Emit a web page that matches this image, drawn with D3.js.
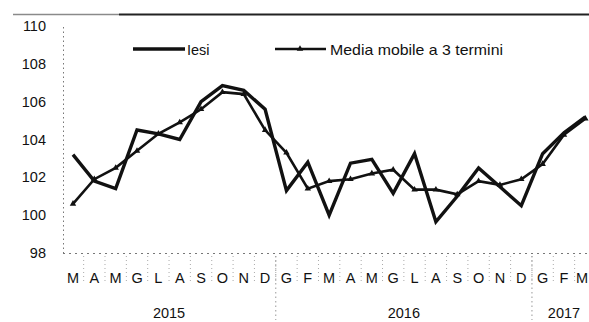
<!DOCTYPE html>
<html>
<head>
<meta charset="utf-8">
<script src="https://cdn.jsdelivr.net/npm/d3@7"></script>
<style>
  html, body { margin: 0; padding: 0; background: #fff; }
  svg { display: block; }
  text { font-family: "Liberation Sans", Arial, sans-serif; fill: #111; }
</style>
</head>
<body>
<svg id="chart" width="589" height="322"></svg>
<script>
// Monthly index, March 2015 – March 2017
const months = ["M","A","M","G","L","A","S","O","N","D",
                "G","F","M","A","M","G","L","A","S","O","N","D",
                "G","F","M"];
const years = ["2015", "2016", "2017"];
const monthsPerYear = [10, 12, 3];

const iesi = [103.2, 101.8, 101.4, 104.5, 104.3, 104.0, 106.0, 106.85, 106.6, 105.6,
              101.3, 102.8, 100.0, 102.75, 102.95, 101.15, 103.25, 99.65, 101.0, 102.5,
              101.5, 100.5, 103.25, 104.35, 105.2];
const mediaMobile = [100.6, 101.9, 102.5, 103.4, 104.3, 104.9, 105.6, 106.5, 106.4, 104.5,
                     103.3, 101.4, 101.8, 101.9, 102.2, 102.4, 101.35, 101.35, 101.1, 101.8,
                     101.6, 101.9, 102.7, 104.25, 105.1];
const yTicks = [98, 100, 102, 104, 106, 108, 110];
const seriesNames = ["Iesi", "Media mobile a 3 termini"];

const W = 589;
const svg = d3.select("#chart");
const idx = d3.range(months.length);

const x = d3.scaleBand().domain(idx).range([62.3, 596]).padding(0);
const cx = i => x(i) + x.bandwidth() / 2;
const y = d3.scaleLinear().domain([98, 110]).range([253, 26]);

// page rule across the top
svg.append("line").attr("x1", 13).attr("x2", 119).attr("y1", 14.5).attr("y2", 14.5)
  .attr("stroke", "#8a8a8a").attr("stroke-width", 1.6);
svg.append("line").attr("x1", 119).attr("x2", W).attr("y1", 14.5).attr("y2", 14.5)
  .attr("stroke", "#222").attr("stroke-width", 1.8);

// y axis (dotted)
const yAxis = svg.append("g").attr("transform", "translate(63,0)")
  .call(d3.axisLeft(y).tickValues(yTicks).tickSize(0).tickPadding(17).tickFormat(d3.format("d")));
yAxis.select(".domain").attr("stroke", "#777").attr("stroke-dasharray", "1.5,3").attr("stroke-width", 1);
yAxis.selectAll("text").attr("font-size", 14.5).attr("fill", "#111");

// x axis baseline (dotted)
svg.append("line").attr("x1", 63).attr("x2", W).attr("y1", 253.5).attr("y2", 253.5)
  .attr("stroke", "#777").attr("stroke-dasharray", "2,4").attr("stroke-width", 1);

// month separators
svg.append("g").selectAll("line").data(idx.slice(1)).join("line")
  .attr("x1", i => x(i)).attr("x2", i => x(i))
  .attr("y1", 256).attr("y2", 282)
  .attr("stroke", "#aaa").attr("stroke-dasharray", "1,3").attr("stroke-width", 1);

// year separators
const yearStarts = d3.cumsum(monthsPerYear);
svg.append("g").selectAll("line").data(yearStarts.slice(0, -1)).join("line")
  .attr("x1", i => x(i)).attr("x2", i => x(i))
  .attr("y1", 256).attr("y2", 320)
  .attr("stroke", "#999").attr("stroke-dasharray", "1.5,3").attr("stroke-width", 1);

// month labels (kept inside the right edge)
svg.append("g").selectAll("text").data(idx).join("text")
  .attr("x", i => Math.min(cx(i), W - 7)).attr("y", 283)
  .attr("text-anchor", "middle").attr("font-size", 14.5)
  .text(i => months[i]);

// year labels centred under their months
const yearBounds = years.map((yr, k) => {
  const start = k === 0 ? 0 : yearStarts[k - 1];
  const end = yearStarts[k];
  return { yr, x0: x(start), x1: x(end - 1) + x.bandwidth() };
});
svg.append("g").selectAll("text").data(yearBounds).join("text")
  .attr("x", d => (d.x0 + d.x1) / 2).attr("y", 318)
  .attr("text-anchor", "middle").attr("font-size", 14.5)
  .text(d => d.yr);

// series lines
const line = d3.line().x((d, i) => cx(i)).y(d => y(d));

svg.append("path").datum(mediaMobile).attr("d", line)
  .attr("fill", "none").attr("stroke", "#111").attr("stroke-width", 2.6)
  .attr("stroke-linejoin", "miter");

const tri = d3.symbol().type(d3.symbolTriangle).size(18);
svg.append("g").selectAll("path").data(mediaMobile).join("path")
  .attr("d", tri)
  .attr("transform", (d, i) => `translate(${cx(i)},${y(d)})`)
  .attr("fill", "#111");

svg.append("path").datum(iesi).attr("d", line)
  .attr("fill", "none").attr("stroke", "#111").attr("stroke-width", 3.4)
  .attr("stroke-linejoin", "miter");

// legend
const lg = svg.append("g");
lg.append("line").attr("x1", 133).attr("x2", 185).attr("y1", 49).attr("y2", 49)
  .attr("stroke", "#111").attr("stroke-width", 3.4);
lg.append("text").attr("x", 187).attr("y", 54.5).attr("font-size", 14.5).text(seriesNames[0]);
lg.append("line").attr("x1", 275).attr("x2", 326).attr("y1", 49).attr("y2", 49)
  .attr("stroke", "#111").attr("stroke-width", 2.6);
lg.append("path").attr("d", tri).attr("transform", "translate(300,49)").attr("fill", "#111");
lg.append("text").attr("x", 330).attr("y", 54.5).attr("font-size", 14.5)
  .attr("textLength", 173).attr("lengthAdjust", "spacingAndGlyphs")
  .text(seriesNames[1]);
</script>
</body>
</html>
